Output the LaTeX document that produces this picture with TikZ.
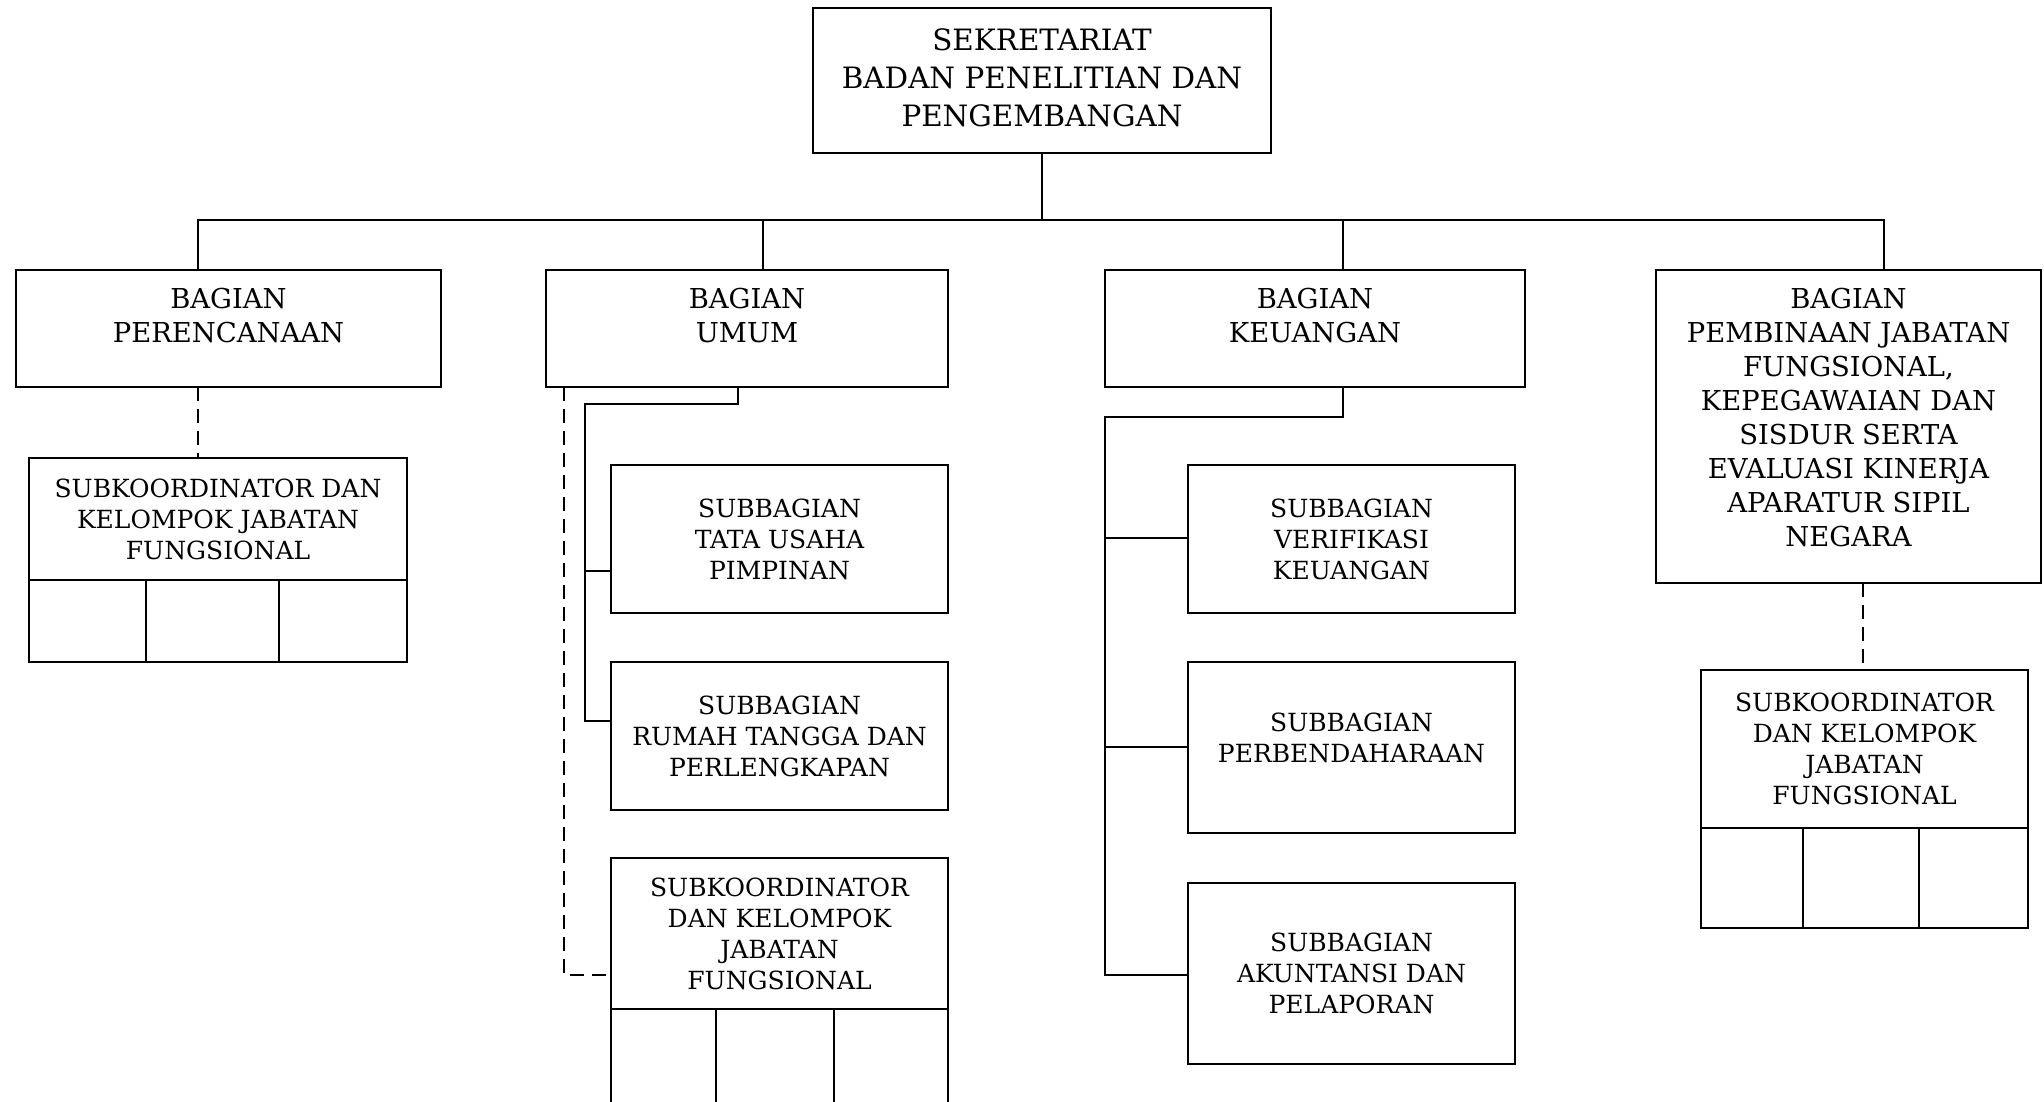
\documentclass[tikz,border=0pt]{standalone}
\usepackage{fontspec}
\setmainfont{DejaVu Serif}
\usetikzlibrary{positioning}
\tikzset{
  kotak/.style={
    draw,
    line width=1pt,
    inner sep=0pt,
    outer sep=0pt,
    align=center,
    anchor=north west
  },
  kepala/.style={
    align=center,
    inner sep=0pt,
    font=\fontsize{14.7}{19}\selectfont
  },
  judul/.style={
    align=center,
    inner sep=0pt,
    font=\fontsize{13.7}{17}\selectfont
  },
  isi/.style={font=\fontsize{12.5}{15.5}\selectfont},
  garis/.style={line width=1pt},
  putus/.style={line width=1pt, dash pattern=on 7pt off 4pt}
}

\begin{document}
\begin{tikzpicture}[x=0.5pt, y=-0.5pt]
  \useasboundingbox (0,0) rectangle (2044,1102);

  % sekretariat
  \node[kotak, minimum width=229pt, minimum height=72.5pt] (sekretariat) at (813,8) {};
  \node[kepala, below=10pt of sekretariat.north] (sekretariat-teks)
    {SEKRETARIAT\\BADAN PENELITIAN DAN\\PENGEMBANGAN};

  % bagian
  \node[kotak, minimum width=212.5pt, minimum height=58.5pt] (perencanaan) at (16,270) {};
  \node[judul, below=9pt of perencanaan.north] (perencanaan-teks) {BAGIAN\\PERENCANAAN};
  \node[kotak, minimum width=201pt, minimum height=58.5pt] (umum) at (546,270) {};
  \node[judul, below=9pt of umum.north] (umum-teks) {BAGIAN\\UMUM};
  \node[kotak, minimum width=210pt, minimum height=58.5pt] (keuangan) at (1105,270) {};
  \node[judul, below=9pt of keuangan.north] (keuangan-teks) {BAGIAN\\KEUANGAN};
  \node[kotak, minimum width=192.5pt, minimum height=156.5pt] (pembinaan) at (1656,270) {};
  \node[judul, below=9pt of pembinaan.north] (pembinaan-teks)
    {BAGIAN\\PEMBINAAN JABATAN\\FUNGSIONAL,\\KEPEGAWAIAN DAN\\SISDUR SERTA\\EVALUASI KINERJA\\APARATUR SIPIL\\NEGARA};

  % kelompok jabatan fungsional perencanaan
  \node[kotak, isi, minimum width=189pt, minimum height=61pt] (perencanaan-jf) at (29,458)
    {SUBKOORDINATOR DAN\\KELOMPOK JABATAN\\FUNGSIONAL};
  \node[kotak, minimum width=58.5pt, minimum height=41pt] (perencanaan-sel1) at (perencanaan-jf.south west) {};
  \node[kotak, minimum width=66.5pt, minimum height=41pt] (perencanaan-sel2) at (perencanaan-sel1.north east) {};
  \node[kotak, minimum width=64pt, minimum height=41pt] (perencanaan-sel3) at (perencanaan-sel2.north east) {};

  % subbagian umum
  \node[kotak, isi, minimum width=168.5pt, minimum height=74pt] (tatausaha) at (611,465)
    {SUBBAGIAN\\TATA USAHA\\PIMPINAN};
  \node[kotak, isi, minimum width=168.5pt, minimum height=74pt] (rumahtangga) at (611,662)
    {SUBBAGIAN\\RUMAH TANGGA DAN\\PERLENGKAPAN};
  \node[kotak, isi, minimum width=168.5pt, minimum height=75.5pt] (umum-jf) at (611,858)
    {SUBKOORDINATOR\\DAN KELOMPOK\\JABATAN\\FUNGSIONAL};
  \node[kotak, minimum width=52.5pt, minimum height=53pt] (umum-sel1) at (umum-jf.south west) {};
  \node[kotak, minimum width=59pt, minimum height=53pt] (umum-sel2) at (umum-sel1.north east) {};
  \node[kotak, minimum width=57pt, minimum height=53pt] (umum-sel3) at (umum-sel2.north east) {};

  % subbagian keuangan
  \node[kotak, isi, minimum width=163.5pt, minimum height=74pt] (verifikasi) at (1188,465)
    {SUBBAGIAN\\VERIFIKASI\\KEUANGAN};
  \node[kotak, isi, minimum width=163.5pt, minimum height=85.5pt] (perbendaharaan) at (1188,662)
    {SUBBAGIAN\\PERBENDAHARAAN\\[-5.7pt]};
  \node[kotak, isi, minimum width=163.5pt, minimum height=90.5pt] (akuntansi) at (1188,883)
    {SUBBAGIAN\\AKUNTANSI DAN\\PELAPORAN};

  % kelompok jabatan fungsional pembinaan
  \node[kotak, isi, minimum width=163.5pt, minimum height=79pt] (pembinaan-jf) at (1701,670)
    {SUBKOORDINATOR\\DAN KELOMPOK\\JABATAN\\FUNGSIONAL};
  \node[kotak, minimum width=51pt, minimum height=50pt] (pembinaan-sel1) at (pembinaan-jf.south west) {};
  \node[kotak, minimum width=58pt, minimum height=50pt] (pembinaan-sel2) at (pembinaan-sel1.north east) {};
  \node[kotak, minimum width=54.5pt, minimum height=50pt] (pembinaan-sel3) at (pembinaan-sel2.north east) {};

  % titik sambung
  \coordinate (cabang) at (1042,220);
  \coordinate (perencanaan-atas) at (198,270);
  \coordinate (umum-atas) at (763,270);
  \coordinate (keuangan-atas) at (1343,270);
  \coordinate (pembinaan-atas) at (1884,270);
  \coordinate (perencanaan-putus) at (198,387);
  \coordinate (umum-bawah) at (738,387);
  \coordinate (umum-tiang) at (585,404);
  \coordinate (umum-putus) at (564,387);
  \coordinate (tatausaha-masuk) at (611,571);
  \coordinate (rumahtangga-masuk) at (611,721);
  \coordinate (umumjf-masuk) at (611,975);
  \coordinate (keuangan-bawah) at (1343,387);
  \coordinate (keuangan-tiang) at (1105,417);
  \coordinate (verifikasi-masuk) at (1188,538);
  \coordinate (perbendaharaan-masuk) at (1188,747);
  \coordinate (akuntansi-masuk) at (1188,975);
  \coordinate (pembinaan-putus) at (1863,583);

  % garis komando
  \draw[garis] (sekretariat.south) -- (cabang);
  \draw[garis] (perencanaan-atas) |- (cabang) -| (pembinaan-atas);
  \draw[garis] (umum-atas) -- (umum-atas |- cabang);
  \draw[garis] (keuangan-atas) -- (keuangan-atas |- cabang);

  \draw[garis] (umum-bawah) |- (umum-tiang) |- (rumahtangga-masuk);
  \draw[garis] (tatausaha-masuk -| umum-tiang) -- (tatausaha-masuk);

  \draw[garis] (keuangan-bawah) |- (keuangan-tiang) |- (akuntansi-masuk);
  \draw[garis] (verifikasi-masuk -| keuangan-tiang) -- (verifikasi-masuk);
  \draw[garis] (perbendaharaan-masuk -| keuangan-tiang) -- (perbendaharaan-masuk);

  % garis koordinasi
  \draw[putus] (perencanaan-putus) -- (perencanaan-putus |- perencanaan-jf.north);
  \draw[putus] (umum-putus) |- (umumjf-masuk);
  \draw[putus] (pembinaan-putus) -- (pembinaan-putus |- pembinaan-jf.north);
\end{tikzpicture}
\end{document}
